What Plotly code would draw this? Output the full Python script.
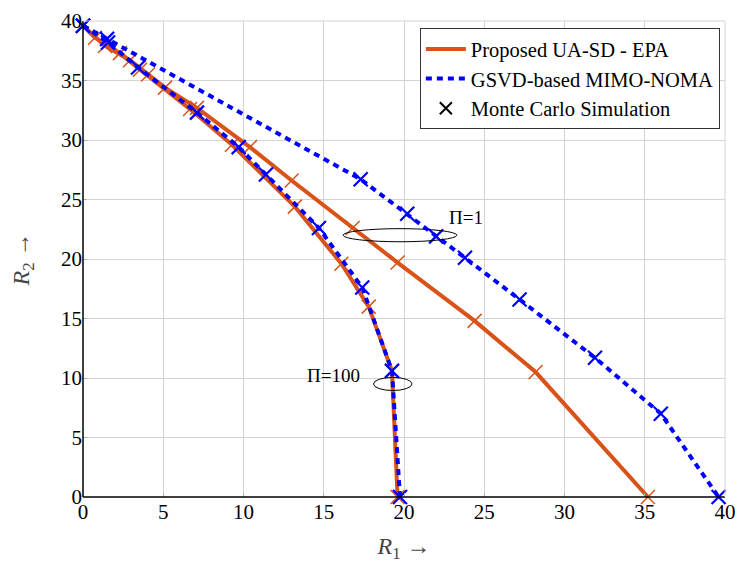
import plotly.graph_objects as go

# rate regions (R1, R2)
ua_pi1_r1 = [0, 1.37, 2.93, 4.05, 5.11, 7.1, 10.4, 13.0, 16.8, 19.6, 24.4, 28.2, 35.2]
ua_pi1_r2 = [39.6, 37.9, 36.7, 35.5, 34.4, 32.7, 29.4, 26.6, 22.6, 19.7, 14.8, 10.5, 0]

ua_pi100_r1 = [0, 0.75, 2.3, 3.55, 6.67, 9.28, 13.2, 16.1, 17.8, 19.25, 19.6]
ua_pi100_r2 = [39.6, 38.6, 37.3, 35.9, 32.6, 29.6, 24.4, 19.6, 16.0, 10.6, 0]

gsvd_pi1_r1 = [0, 1.5, 17.3, 20.2, 22.0, 23.8, 27.2, 31.9, 36.0, 39.6]
gsvd_pi1_r2 = [39.6, 38.5, 26.7, 23.8, 21.9, 20.1, 16.6, 11.7, 7.0, 0]

gsvd_pi100_r1 = [0, 1.56, 3.43, 7.1, 9.7, 11.4, 14.7, 17.4, 19.25, 19.75]
gsvd_pi100_r2 = [39.6, 38.2, 36.1, 32.3, 29.4, 27.1, 22.6, 17.6, 10.6, 0]

ORANGE = "#D95319"
BLUE = "#0000FF"
SERIF = "Liberation Serif, DejaVu Serif, serif"

fig = go.Figure()


def ua_trace(x, y):
    return go.Scatter(
        x=x, y=y, mode="lines+markers", showlegend=False, cliponaxis=False,
        line=dict(color=ORANGE, width=4),
        marker=dict(symbol="x-thin", size=14, color=ORANGE,
                    line=dict(color=ORANGE, width=1.5)),
    )


def gsvd_trace(x, y):
    return go.Scatter(
        x=x, y=y, mode="lines+markers", showlegend=False, cliponaxis=False,
        line=dict(color=BLUE, width=4, dash="6px,5px"),
        marker=dict(symbol="x-thin", size=14, color=BLUE,
                    line=dict(color=BLUE, width=2.2)),
    )


fig.add_trace(ua_trace(ua_pi1_r1, ua_pi1_r2))
fig.add_trace(ua_trace(ua_pi100_r1, ua_pi100_r2))
fig.add_trace(gsvd_trace(gsvd_pi1_r1, gsvd_pi1_r2))
fig.add_trace(gsvd_trace(gsvd_pi100_r1, gsvd_pi100_r2))

# legend-only entries
fig.add_trace(go.Scatter(x=[None], y=[None], mode="lines", name="Proposed UA-SD - EPA",
                         line=dict(color=ORANGE, width=4)))
fig.add_trace(go.Scatter(x=[None], y=[None], mode="lines", name="GSVD-based MIMO-NOMA",
                         line=dict(color=BLUE, width=4, dash="6px,5px")))
fig.add_trace(go.Scatter(
    x=[None], y=[None], mode="markers", name="Monte Carlo Simulation",
    marker=dict(symbol="x-thin", size=12, color="black",
                line=dict(color="black", width=2)),
))

# ellipses marking the two curve pairs
fig.add_shape(type="circle", xref="x", yref="y", x0=16.2, x1=23.3, y0=21.45, y1=22.55,
              line=dict(color="black", width=1))
fig.add_shape(type="circle", xref="x", yref="y", x0=18.1, x1=20.5, y0=8.95, y1=10.05,
              line=dict(color="black", width=1))

fig.add_annotation(x=22.7, y=23.5, text="Π=1", showarrow=False, xanchor="left",
                   font=dict(family=SERIF, size=19, color="black"))
fig.add_annotation(x=17.4, y=10.2, text="Π=100", showarrow=False, xanchor="right",
                   font=dict(family=SERIF, size=19, color="black"))

axis_common = dict(
    range=[0, 40], dtick=5, showgrid=True, gridcolor="#d3d3d3", gridwidth=1,
    zeroline=False, showline=False, ticks="inside", ticklen=4, tickcolor="#b0b0b0",
    tickfont=dict(family=SERIF, size=21, color="black"),
    automargin=False, ticklabeloverflow="allow",
)

fig.update_xaxes(**axis_common,
                 title=dict(text="<i>R</i><sub>1</sub> →", standoff=14,
                            font=dict(family=SERIF, size=24, color="#444")))
fig.update_yaxes(**axis_common,
                 title=dict(text="<i>R</i><sub>2</sub> →", standoff=24,
                            font=dict(family=SERIF, size=24, color="#444")))

# black left and bottom axis lines, light frame top and right
fig.add_shape(type="line", xref="paper", yref="paper", x0=0, x1=0, y0=0, y1=1,
              line=dict(color="black", width=1.5))
fig.add_shape(type="line", xref="paper", yref="paper", x0=0, x1=1, y0=0, y1=0,
              line=dict(color="black", width=1.5))
fig.add_shape(type="line", xref="paper", yref="paper", x0=0, x1=1, y0=1, y1=1,
              line=dict(color="#d3d3d3", width=1))
fig.add_shape(type="line", xref="paper", yref="paper", x0=1, x1=1, y0=0, y1=1,
              line=dict(color="#d3d3d3", width=1))

fig.update_layout(
    width=748, height=574,
    margin=dict(l=75, r=31, t=13, b=85),
    plot_bgcolor="white", paper_bgcolor="white",
    font=dict(family=SERIF, color="black"),
    legend=dict(
        x=0.992, y=0.985, xanchor="right", yanchor="top",
        bgcolor="white", bordercolor="#333", borderwidth=1,
        font=dict(family=SERIF, size=20.5, color="black"),
        tracegroupgap=0, itemwidth=40,
    ),
)

fig.write_html("out.html")
